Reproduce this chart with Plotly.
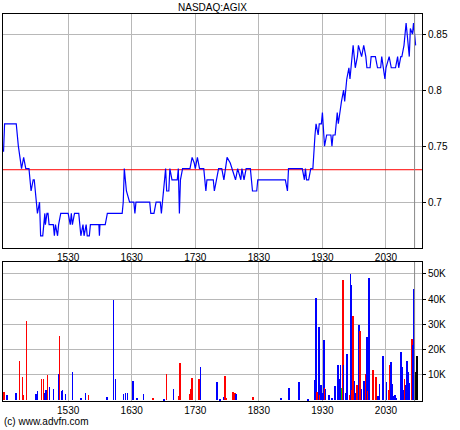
import plotly.graph_objects as go

price_time = [869,870,881,883,886,888,890,893,895,897,898,900,901,903,904,906,908,908.5,910,911,912,916,917,918,920,921,923,930,932,933,934,936,940,942,944,945,947,948,950,951,959,959.5,960,965,967,981,982,983,985,988,992,993,994,1007,1008,1011,1013,1017,1018,1019,1022,1023,1025,1026,1028,1033,1034,1035,1036,1038,1045,1047,1049,1050,1052,1054,1058,1060,1061,1067,1068,1070,1072,1075,1077,1080,1083,1088,1090,1093,1094,1096,1098,1102,1104,1108,1109,1135,1137,1138,1151,1153,1154,1155,1157,1159,1161,1163,1164,1166,1167,1169,1170,1172,1174,1178,1179,1180,1182,1184,1185,1188,1190,1191,1193,1195,1196,1197,1199,1201,1203,1204,1207,1209,1211,1212,1215,1216,1220,1222,1225,1226,1229,1230,1233,1235,1239,1241,1242,1244,1245,1247,1249,1252,1253,1255,1256,1258]
price_val = [0.745,0.77,0.77,0.75,0.73,0.74,0.73,0.73,0.71,0.72,0.72,0.70,0.69,0.70,0.67,0.67,0.69,0.68,0.69,0.69,0.68,0.68,0.67,0.68,0.67,0.68,0.69,0.69,0.68,0.69,0.68,0.69,0.69,0.67,0.68,0.67,0.68,0.67,0.67,0.68,0.68,0.67,0.68,0.68,0.69,0.69,0.70,0.73,0.71,0.70,0.70,0.69,0.70,0.70,0.69,0.69,0.70,0.70,0.69,0.70,0.73,0.71,0.71,0.73,0.72,0.72,0.73,0.69,0.72,0.73,0.73,0.74,0.735,0.73,0.74,0.73,0.73,0.71,0.72,0.72,0.71,0.72,0.73,0.73,0.72,0.74,0.735,0.72,0.73,0.72,0.73,0.72,0.73,0.73,0.71,0.71,0.72,0.72,0.71,0.73,0.73,0.72,0.73,0.72,0.72,0.73,0.73,0.76,0.77,0.76,0.77,0.77,0.78,0.75,0.76,0.76,0.75,0.76,0.76,0.78,0.77,0.79,0.80,0.79,0.81,0.82,0.81,0.82,0.84,0.82,0.83,0.84,0.83,0.84,0.83,0.82,0.82,0.83,0.83,0.82,0.82,0.83,0.81,0.82,0.83,0.82,0.82,0.83,0.82,0.83,0.83,0.84,0.86,0.83,0.855,0.85,0.86,0.84]
prev_close = 0.729
now_time = 1257

vol_time = [869.5,872.6,880.5,884,886.8,887.8,890.6,899.4,901,904.8,906.7,907.6,908.9,910.4,912.3,916.1,921.1,921.8,923.7,924.6,927.5,934.1,942.3,946.4,949.2,966.5,972.8,974.7,982.3,984.2,986,991.4,995.2,1001.2,1010,1020.7,1022.9,1029.5,1034.9,1035.5,1044.6,1045.9,1046.9,1053.5,1055,1070.2,1073.6,1077.4,1078,1079.3,1085.3,1087.2,1088.1,1104.5,1130.6,1138.5,1148,1156.2,1163.1,1164,1165,1166.6,1167.5,1168.5,1169.7,1171.3,1171.9,1172.9,1176,1179.2,1182,1184.8,1186.4,1187,1188.3,1189.2,1189.9,1192.4,1193.3,1195.5,1196.5,1197.1,1198,1199,1200.3,1201.5,1202.8,1204.4,1205.3,1206,1206.9,1209.4,1210.7,1212.2,1213.2,1213.8,1214.1,1217.6,1220.7,1222.3,1223.9,1227,1227.7,1230.5,1232.7,1233.7,1234.6,1235.5,1237.1,1238.7,1240,1244.4,1245.3,1246.2,1247.5,1248.4,1250,1250.9,1251.9,1254.7,1255.4,1256,1256.6,1257.3,1259.2]
vol_k = [3.3,2.2,3,15.5,9.3,2,31.5,2.5,3.8,8.5,8.2,3,4,9.8,5.2,4.5,10.5,25.3,3.5,4.2,2.5,11,1,3,2.2,1.2,39.5,8.5,2.6,3,3,7.7,1,2.3,1,0.5,10.5,4.5,1.5,14.8,2.5,4.3,8.8,8.2,13.2,7.3,0.5,1.3,9.7,1,3.3,3,2.5,1.2,1,4.8,7.3,0.5,7.8,40.3,3.3,29,2,6,3,24,5,4.5,2,1,5.5,14,8.5,14,5,47.5,14,3,18.3,2,49.8,45.5,4,33.3,7.5,3,6,29.8,27.5,15,4.5,7.5,10.5,25,3.5,48.5,35,12,9,1.5,6.5,17.5,3.5,7.3,4,13.8,15.2,6.5,1.5,2,1,19,13,4,8.5,6,15.5,11.2,6.8,24.2,22,20,44,11,17.5]
vol_side = list("rbbrrrrbbrrbbrbbbrbbbbbbrbbbbbbbbbrbrbrrrrrrbbbbrrrrbrbbbbbbrbrbbbrbbbbbbbgrbbbrbbrrbbrbrrbbrbrbbrrbbbbbrrbbbbbbbbrbbbbrbbb")
tick_vals = [930, 990, 1050, 1110, 1170, 1230]
tick_text = ["1530", "1630", "1730", "1830", "1930", "2030"]
price_ticks = [0.7, 0.75, 0.8, 0.85]
price_tick_text = ["0.7", "0.75", "0.8", "0.85"]
vol_ticks = [10, 20, 30, 40, 50]
vol_tick_text = ["10K", "20K", "30K", "40K", "50K"]

colmap = {"b": "#0000ff", "r": "#ff0000", "g": "#00cc00"}
xr = [868.5, 1264]
fig = go.Figure()
fig.add_trace(go.Scatter(x=xr, y=[prev_close, prev_close], mode="lines",
                         line=dict(color="#ff0000", width=1), xaxis="x", yaxis="y", hoverinfo="skip"))
fig.add_trace(go.Scatter(x=price_time, y=price_val, mode="lines",
                         line=dict(color="#0000ff", width=1.2), xaxis="x", yaxis="y"))
fig.add_trace(go.Bar(x=vol_time, y=vol_k, marker=dict(color=[colmap[c] for c in vol_side], line=dict(width=0)),
                     width=0.7, xaxis="x2", yaxis="y2"))
for ax in ["x", "x2"]:
    fig.add_shape(type="line", xref=ax, yref=("y domain" if ax == "x" else "y2 domain"),
                  x0=now_time, x1=now_time, y0=0, y1=1, line=dict(color="#888888", width=1))

common_x = dict(range=xr, tickvals=tick_vals, ticktext=tick_text, showgrid=True, gridcolor="#b8b8b8",
                gridwidth=1, showline=True, mirror=True, linecolor="black", linewidth=1,
                ticks="", zeroline=False, tickfont=dict(size=10, color="black"))
common_y = dict(side="right", showgrid=True, gridcolor="#b8b8b8", gridwidth=1, showline=True, mirror=True,
                linecolor="black", linewidth=1, ticks="outside", ticklen=3, tickcolor="black",
                zeroline=False, tickfont=dict(size=10, color="black"))
fig.update_layout(
    width=460, height=430, margin=dict(l=3, r=38, t=14, b=29),
    paper_bgcolor="white", plot_bgcolor="white", showlegend=False, bargap=0,
    font=dict(family="Liberation Sans, Arial", size=10, color="black"),
    xaxis=dict(**common_x, anchor="y"),
    xaxis2=dict(**common_x, anchor="y2"),
    yaxis=dict(**common_y, domain=[0.395, 1], range=[0.659, 0.868], tickvals=price_ticks, ticktext=price_tick_text),
    yaxis2=dict(**common_y, domain=[0, 0.359], range=[-0.3, 54.7], tickvals=vol_ticks, ticktext=vol_tick_text),
    annotations=[
        dict(text="NASDAQ:AGIX", xref="paper", yref="paper", x=0.5, y=1, yanchor="bottom", xanchor="center",
             showarrow=False, yshift=-1, font=dict(size=10)),
        dict(text="(c) www.advfn.com", xref="paper", yref="paper", x=0, y=0, xanchor="left", yanchor="bottom",
             showarrow=False, yshift=-28, xshift=-1, font=dict(size=10)),
    ],
)
fig.write_html("out.html", config={"displayModeBar": False},
               post_script="document.body.style.margin='0';document.body.style.overflow='hidden';")
